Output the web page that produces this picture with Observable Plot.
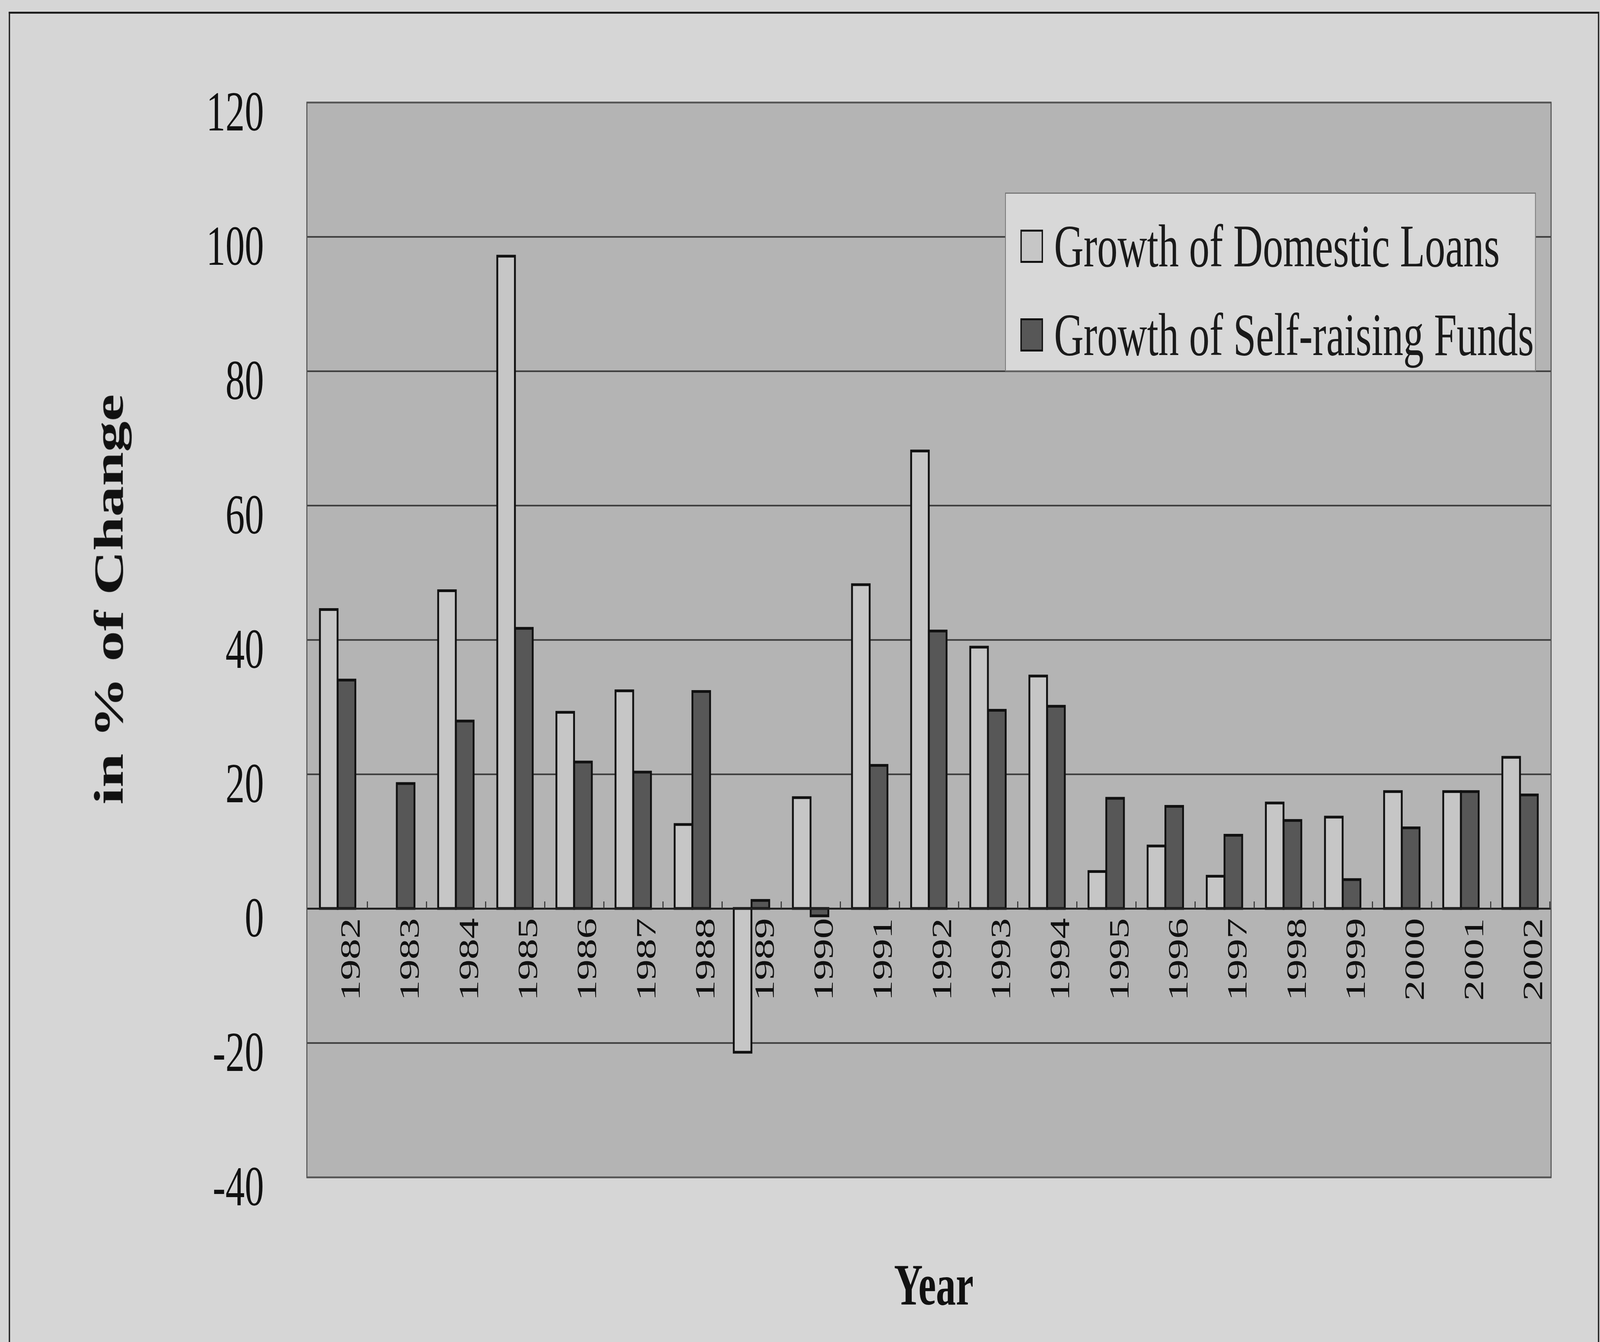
<!DOCTYPE html>
<html><head><meta charset="utf-8">
<script src="https://cdn.jsdelivr.net/npm/d3@7"></script>
<script src="https://cdn.jsdelivr.net/npm/@observablehq/plot@0.6"></script>
<style>
html,body{margin:0;padding:0;background:#d6d6d6;overflow:hidden;}
#wrap{position:absolute;left:0;top:0;width:6035px;height:3436px;overflow:hidden;transform-origin:0 0;}
#chart{position:absolute;left:0;top:0;}
#border{position:absolute;left:33px;top:30px;width:5999px;height:3600px;border:5px solid #1e1e1e;border-bottom:none;box-sizing:border-box;}
#legend{position:absolute;left:3791px;top:493px;width:2002px;height:458px;background:#d8d8d8;border:3px solid #777;box-sizing:border-box;font-family:"Liberation Serif","Times New Roman",serif;font-size:154px;color:#1a1a1a;}
.row{position:absolute;left:55px;display:flex;align-items:center;height:200px;white-space:nowrap;}
.sw{width:85px;height:85px;border:5px solid #111;box-sizing:border-box;margin-right:42px;flex:none;}
</style></head>
<body><div id="wrap"><div id="border"></div><div id="chart"></div><div id="legend"></div></div>
<script>
const years = [1982,1983,1984,1985,1986,1987,1988,1989,1990,1991,1992,1993,1994,1995,1996,1997,1998,1999,2000,2001,2002];
const domesticLoans = [44.5,null,47.3,97.1,29.2,32.4,12.5,-21.4,16.5,48.2,68.1,38.9,34.6,5.5,9.3,4.8,15.7,13.6,17.4,17.4,22.5];
const selfRaisingFunds = [34.0,18.6,27.9,41.7,21.8,20.3,32.3,1.2,-1.1,21.3,41.3,29.5,30.1,16.4,15.2,10.9,13.1,4.3,12.0,17.4,16.9];
const yTicks = [-40,-20,0,20,40,60,80,100,120];
const seriesNames = ["Growth of Domestic Loans","Growth of Self-raising Funds"];
const seriesColors = ["#c6c6c6","#575757"];

const W = 6035, H = 3436;
const mL = 1157, mR = 185, mT = 262, mB = 422;
const bw = (W - mL - mR) / years.length;
const rows = years.map((y,i)=>({year:String(y), loans: domesticLoans[i], funds: selfRaisingFunds[i]}));

const chart = Plot.plot({
  width: W, height: H,
  marginLeft: mL, marginRight: mR, marginTop: mT, marginBottom: mB,
  style: {background:"transparent", fontFamily:"Liberation Serif, Times New Roman, serif", overflow:"visible", color:"#111"},
  x: {type:"band", domain: rows.map(d=>d.year), padding:0, axis:null},
  y: {domain:[-40,120], axis:null},
  marks: [
    Plot.frame({fill:"#b4b4b4", stroke:null}),
    Plot.gridY(yTicks, {stroke:"#3a3a3a", strokeOpacity:1, strokeWidth:4}),
    Plot.barY(rows.filter(d=>d.loans!=null), {x:"year", y:"loans", fill: seriesColors[0], stroke:"#111", strokeWidth:7, insetLeft:0.2*bw, insetRight:0.5*bw}),
    Plot.barY(rows.filter(d=>d.funds!=null), {x:"year", y:"funds", fill: seriesColors[1], stroke:"#111", strokeWidth:7, insetLeft:0.5*bw, insetRight:0.2*bw}),
    Plot.ruleY([0], {stroke:"#222", strokeWidth:5}),
    Plot.ruleX(rows, {x:"year", y1:0, y2:0, insetTop:-18, dx:bw/2, stroke:"#333", strokeWidth:4}),
    Plot.text(rows, {x:"year", y:0, text:"year", rotate:-90, textAnchor:"end", lineAnchor:"middle", dx:0.22*bw, dy:24, fontSize:106, fill:"#111"}),
    Plot.axisY({ticks:yTicks, tickSize:0, tickPadding:162, fontSize:145, dy:25, label:null, fill:"#111", tickFormat:d=>String(d)}),
    Plot.text(["in % of Change"], {text:d=>d, frameAnchor:"left", rotate:-90, dx:-745, dy:-104, fontSize:157, fontWeight:"bold", textAnchor:"middle", lineAnchor:"middle", fill:"#111"}),
    Plot.text(["Year"], {text:d=>d, frameAnchor:"bottom", dx:18, dy:277, fontSize:150, fontWeight:"bold", lineAnchor:"middle", fill:"#111"}),
    Plot.frame({stroke:"#555", strokeWidth:4})
  ]
});
document.getElementById("chart").appendChild(chart);

const legend = document.getElementById("legend");
const rowTops = [34, 261];
seriesNames.forEach((name, i) => {
  const r = document.createElement("div");
  r.className = "row";
  r.style.top = rowTops[i] + "px";
  const sw = document.createElement("div");
  sw.className = "sw";
  sw.style.background = seriesColors[i];
  const t = document.createElement("span");
  t.textContent = name;
  r.appendChild(sw); r.appendChild(t);
  legend.appendChild(r);
});

// The window may be narrower than the 6035×3436 design; fill it exactly.
function fit() {
  const sx = window.innerWidth / W, sy = window.innerHeight / H;
  document.getElementById("wrap").style.transform = "scale(" + sx + "," + sy + ")";
}
fit();
window.addEventListener("resize", fit);
</script>
</body></html>
